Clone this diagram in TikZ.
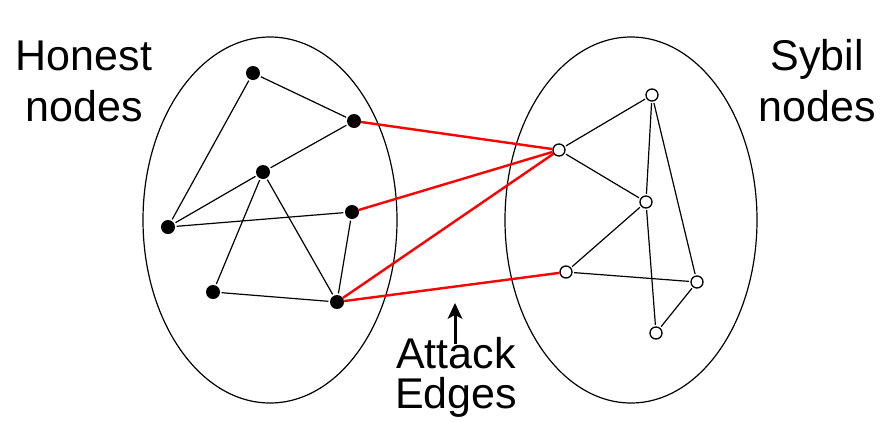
\documentclass[tikz,border=0pt]{standalone}
\usepackage{fontspec}
\setmainfont{Liberation Sans}
\usetikzlibrary{arrows.meta}
\begin{document}
\begin{tikzpicture}[x=1pt,y=-1pt,
  honest/.style={circle,fill=black,inner sep=0pt,minimum size=14pt},
  sybil/.style={circle,draw=black,line width=1.3pt,fill=white,inner sep=0pt,minimum size=12pt},
  gedge/.style={draw=black,line width=1.2pt,shorten <=1.5pt,shorten >=1.5pt},
  aedge/.style={draw=red,line width=2.4pt},
  region/.style={draw=black,line width=1.2pt},
  lbl/.style={inner sep=0pt,align=center},
  pointer/.style={draw=black,line width=3pt,-{Stealth[length=16pt,width=15pt,inset=4pt,line width=0pt]}}]
\useasboundingbox (0,0) rectangle (881,421);
\draw[region] (270,220) ellipse [x radius=127, y radius=183];
\draw[region] (631,220) ellipse [x radius=126, y radius=183];
% honest nodes
\node[honest] (A) at (253,73) {};
\node[honest] (B) at (354,121) {};
\node[honest] (C) at (263,172) {};
\node[honest] (D) at (352,212) {};
\node[honest] (E) at (168,227) {};
\node[honest] (F) at (213,292) {};
\node[honest] (G) at (337,302) {};
% sybil nodes
\node[sybil] (P) at (652,95) {};
\node[sybil] (Q) at (559,150) {};
\node[sybil] (R) at (646,202) {};
\node[sybil] (S) at (566,272) {};
\node[sybil] (T) at (697,282) {};
\node[sybil] (U) at (656,333) {};
% honest edges
\path[gedge] (A) -- (B);
\path[gedge] (A) -- (E);
\path[gedge] (E) -- (C);
\path[gedge] (C) -- (B);
\path[gedge] (E) -- (D);
\path[gedge] (C) -- (F);
\path[gedge] (C) -- (G);
\path[gedge] (F) -- (G);
\path[gedge] (D) -- (G);
% sybil edges
\path[gedge] (Q) -- (P);
\path[gedge] (Q) -- (R);
\path[gedge] (P) -- (R);
\path[gedge] (P) -- (T);
\path[gedge] (R) -- (S);
\path[gedge] (S) -- (T);
\path[gedge] (R) -- (U);
\path[gedge] (U) -- (T);
% attack edges
\path[aedge] (B) -- (Q);
\path[aedge] (D) -- (Q);
\path[aedge] (G) -- (Q);
\path[aedge] (G) -- (S);
% labels
\node[lbl,font={\fontsize{43}{51}\selectfont}] (hl) at (84,81) {Honest\\nodes};
\node[lbl,font={\fontsize{43}{51}\selectfont}] (sl) at (817,81) {Sybil\\nodes};
\node[lbl,font={\fontsize{43}{40}\selectfont}] (al) at (456,377) {Attack\\Edges};
\coordinate (tip) at (455,303);
\coordinate (tail) at (455,344);
\draw[pointer] (tail) -- (tip);
\end{tikzpicture}
\end{document}
